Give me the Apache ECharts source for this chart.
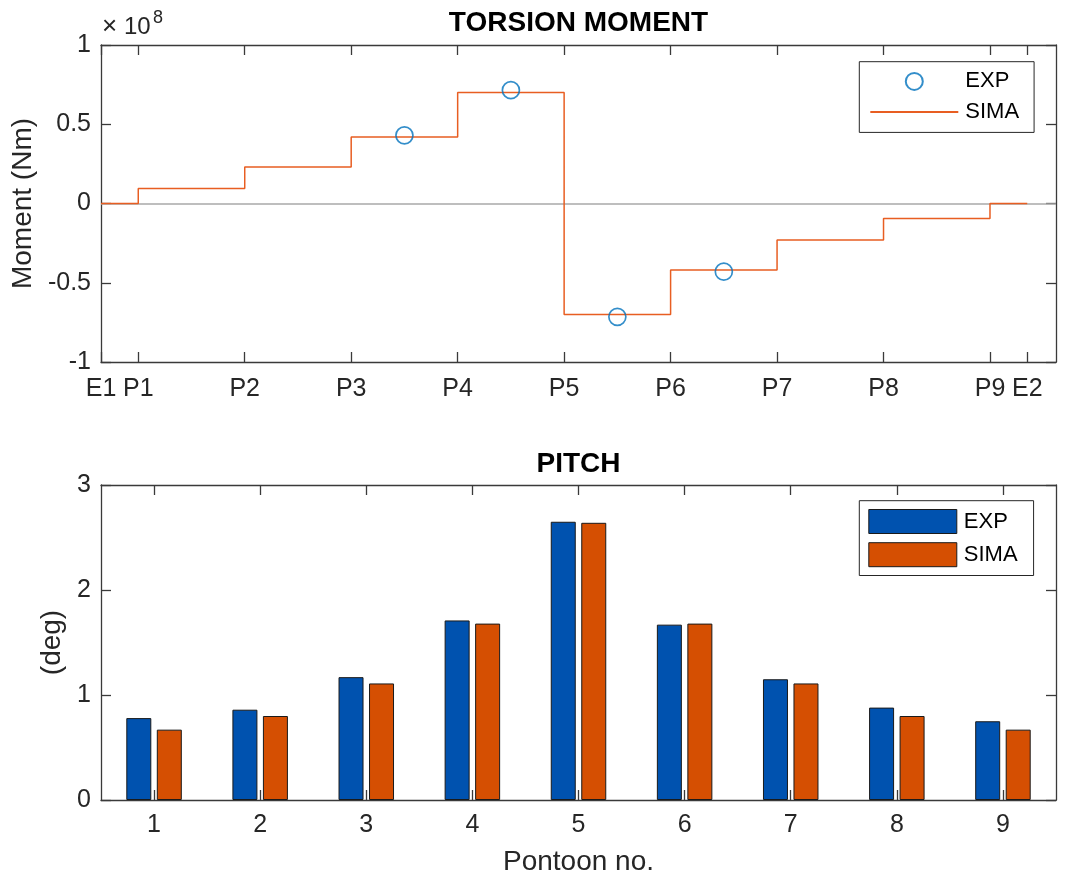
<!DOCTYPE html>
<html><head><meta charset="utf-8">
<script src="https://cdn.jsdelivr.net/npm/echarts@6/dist/echarts.min.js"></script>
<style>html,body{margin:0;padding:0;background:#fff}#c{width:1076px;height:879px}</style>
</head><body><div id="c"></div>
<script>
// ---- data ----
const torsionTickPos = [0.65, 1, 2, 3, 4, 5, 6, 7, 8, 9, 9.35];
const torsionTickLabels = ['E1', 'P1', 'P2', 'P3', 'P4', 'P5', 'P6', 'P7', 'P8', 'P9', 'E2'];
const simaStepX = [0.65, 1, 2, 3, 4, 5, 6, 7, 8, 9, 9.35];
const simaMoment = [0, 0.095e8, 0.23e8, 0.42e8, 0.70e8, -0.70e8, -0.42e8, -0.23e8, -0.095e8, 0, 0];
const expMomentX = [3.5, 4.5, 5.5, 6.5];
const expMoment = [0.43e8, 0.715e8, -0.715e8, -0.43e8];
const pontoons = ['1', '2', '3', '4', '5', '6', '7', '8', '9'];
const pitchExp = [0.78, 0.86, 1.17, 1.71, 2.65, 1.67, 1.15, 0.88, 0.75];
const pitchSima = [0.67, 0.80, 1.11, 1.68, 2.64, 1.68, 1.11, 0.80, 0.67];

const FONT = 'Liberation Sans, Arial, Helvetica, sans-serif';
const AX = '#3a3a3a';
const TXT = '#262626';
const axLine = { show: true, onZero: false, lineStyle: { color: AX, width: 1.3 } };
const tickStyle = { color: AX, width: 1.3 };
const lbl = { fontSize: 25, color: TXT, fontFamily: FONT };
const nameStyle = { fontSize: 28, color: TXT, fontFamily: FONT };
const titleStyle = { fontSize: 28, fontWeight: 'bold', color: '#000', fontFamily: FONT };
const legendText = { fontSize: 22, color: '#000', fontFamily: FONT, lineHeight: 22, padding: [0, 0, 0, 2] };

function nearestLabel(v) {
  let bi = 0, bd = Infinity;
  torsionTickPos.forEach((p, i) => { const d = Math.abs(p - v); if (d < bd) { bd = d; bi = i; } });
  return torsionTickLabels[bi];
}

const chart = echarts.init(document.getElementById('c'), null, { renderer: 'canvas' });
chart.setOption({
  animation: false,
  backgroundColor: '#fff',
  title: [
    { text: 'TORSION MOMENT', left: 578.5, textAlign: 'center', top: 9, padding: 0, textStyle: titleStyle },
    { text: 'PITCH', left: 578.5, textAlign: 'center', top: 450, padding: 0, textStyle: titleStyle }
  ],
  graphic: [
    { type: 'text', left: 102, top: 14, style: { text: '\u00d7', fontSize: 26, fill: TXT, fontFamily: FONT } },
    { type: 'text', left: 124, top: 15, style: { text: '10', fontSize: 24, fill: TXT, fontFamily: FONT } },
    { type: 'text', left: 153, top: 9, style: { text: '8', fontSize: 18, fill: TXT, fontFamily: FONT } }
  ],
  grid: [
    { left: 101, top: 45, right: 20, height: 317 },
    { left: 101, top: 485, right: 20, height: 315 }
  ],
  legend: [
    { data: ['EXP', { name: 'SIMA', itemStyle: { opacity: 0 } }], orient: 'vertical', left: 859.3, top: 61.7,
      itemWidth: 88, itemHeight: 17, itemGap: 8.6, padding: [8.7, 15, 9.4, 10],
      borderColor: '#262626', borderWidth: 1, backgroundColor: '#fff',
      textStyle: legendText },
    { data: ['EXP (pitch)', 'SIMA (pitch)'], orient: 'vertical', left: 859.3, top: 500.7,
      itemWidth: 88, itemHeight: 24, itemGap: 8.2, padding: [8.3, 16, 8.3, 9], icon: 'rect',
      borderColor: '#262626', borderWidth: 1, backgroundColor: '#fff',
      formatter: n => n.split(' ')[0],
      itemStyle: { borderColor: '#1a1a1a', borderWidth: 1 },
      textStyle: legendText }
  ],
  xAxis: [
    { type: 'value', gridIndex: 0, position: 'bottom', min: 0.65, max: 9.62,
      axisLine: axLine, splitLine: { show: false },
      axisTick: { show: true, inside: true, length: 10, customValues: torsionTickPos, lineStyle: tickStyle },
      axisLabel: Object.assign({ customValues: torsionTickPos, formatter: nearestLabel, margin: 15 }, lbl) },
    { type: 'value', gridIndex: 0, position: 'top', min: 0.65, max: 9.62,
      axisLine: axLine, splitLine: { show: false },
      axisTick: { show: true, inside: true, length: 10, customValues: torsionTickPos, lineStyle: tickStyle },
      axisLabel: { show: false } },
    { type: 'category', gridIndex: 1, position: 'bottom', data: pontoons,
      axisLine: axLine, splitLine: { show: false },
      axisTick: { show: true, inside: true, length: 10, alignWithLabel: true, interval: 0, lineStyle: tickStyle },
      axisLabel: Object.assign({ margin: 13, interval: 0 }, lbl),
      name: 'Pontoon no.', nameLocation: 'middle', nameGap: 48, nameTextStyle: nameStyle },
    { type: 'category', gridIndex: 1, position: 'top', data: pontoons,
      axisLine: axLine, splitLine: { show: false },
      axisTick: { show: true, inside: true, length: 10, alignWithLabel: true, interval: 0, lineStyle: tickStyle },
      axisLabel: { show: false } }
  ],
  yAxis: [
    { type: 'value', gridIndex: 0, position: 'left', min: -1e8, max: 1e8, interval: 0.5e8,
      axisLine: axLine, splitLine: { show: false },
      axisTick: { show: true, inside: true, length: 10, lineStyle: tickStyle },
      axisLabel: Object.assign({ margin: 10, formatter: v => String(Math.round(v / 1e6) / 100) }, lbl),
      name: 'Moment (Nm)', nameLocation: 'middle', nameGap: 64, nameTextStyle: nameStyle },
    { type: 'value', gridIndex: 0, position: 'right', min: -1e8, max: 1e8, interval: 0.5e8,
      axisLine: axLine, splitLine: { show: false },
      axisTick: { show: true, inside: true, length: 10, lineStyle: tickStyle },
      axisLabel: { show: false } },
    { type: 'value', gridIndex: 1, position: 'left', min: 0, max: 3, interval: 1,
      axisLine: axLine, splitLine: { show: false },
      axisTick: { show: true, inside: true, length: 10, lineStyle: tickStyle },
      axisLabel: Object.assign({ margin: 10 }, lbl),
      name: '(deg)', nameLocation: 'middle', nameGap: 33, nameTextStyle: nameStyle },
    { type: 'value', gridIndex: 1, position: 'right', min: 0, max: 3, interval: 1,
      axisLine: axLine, splitLine: { show: false },
      axisTick: { show: true, inside: true, length: 10, lineStyle: tickStyle },
      axisLabel: { show: false } }
  ],
  series: [
    { name: 'SIMA', type: 'line', xAxisIndex: 0, yAxisIndex: 0, step: 'end', symbol: 'none', z: 3,
      data: simaStepX.map((x, i) => [x, simaMoment[i]]),
      itemStyle: { color: '#E85E22' },
      lineStyle: { color: '#E85E22', width: 1.5 },
      markLine: { silent: true, symbol: ['none', 'none'], label: { show: false }, z: 2,
        lineStyle: { color: '#A8A8A8', width: 1.5, type: 'solid' }, data: [{ yAxis: 0 }] } },
    { name: 'EXP', type: 'scatter', xAxisIndex: 0, yAxisIndex: 0, symbol: 'circle', symbolSize: 17, z: 4,
      data: expMomentX.map((x, i) => [x, expMoment[i]]),
      itemStyle: { color: 'transparent', borderColor: '#0072BD', borderWidth: 1.7 } },
    { name: 'EXP (pitch)', type: 'bar', xAxisIndex: 2, yAxisIndex: 2, data: pitchExp,
      barWidth: 25, barGap: '22%',
      itemStyle: { color: '#0052AF', borderColor: '#1a1a1a', borderWidth: 1 } },
    { name: 'SIMA (pitch)', type: 'bar', xAxisIndex: 2, yAxisIndex: 2, data: pitchSima,
      barWidth: 25, barGap: '22%',
      itemStyle: { color: '#D54F02', borderColor: '#1a1a1a', borderWidth: 1 } }
  ]
});
</script></body></html>
